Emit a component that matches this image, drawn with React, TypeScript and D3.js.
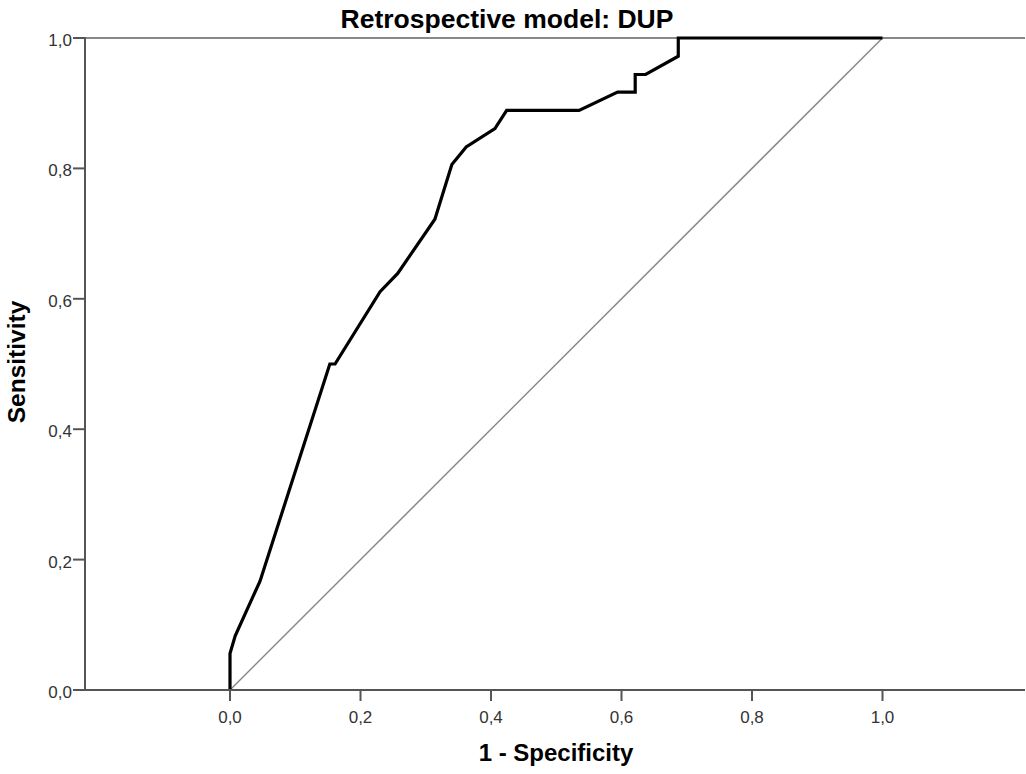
import React from "react";
import * as d3 from "d3";

const fpr = [0, 0, 0.008, 0.046, 0.153, 0.161, 0.23, 0.257, 0.314, 0.34, 0.362, 0.406, 0.424, 0.535, 0.594, 0.621, 0.621, 0.637, 0.687, 0.687, 1.0];
const tpr = [0, 0.056, 0.083, 0.167, 0.5, 0.5, 0.611, 0.639, 0.722, 0.806, 0.833, 0.861, 0.889, 0.889, 0.917, 0.917, 0.944, 0.944, 0.972, 1.0, 1.0];
const xTicks = [0, 0.2, 0.4, 0.6, 0.8, 1.0];
const yTicks = [0, 0.2, 0.4, 0.6, 0.8, 1.0];
const title = "Retrospective model: DUP";
const xLabel = "1 - Specificity";
const yLabel = "Sensitivity";

export default function App() {
  const W = 1026, H = 774;
  const left = 85, right = 1025, top = 38, bottom = 690;
  const x = d3.scaleLinear().domain([0, 1]).range([230, 882.5]);
  const y = d3.scaleLinear().domain([0, 1]).range([bottom, top]);
  const pts: [number, number][] = fpr.map((f, i) => [f, tpr[i]]);
  const line = d3.line<[number, number]>().x(d => x(d[0])).y(d => y(d[1]));
  const fmt = (v: number) => v.toFixed(1).replace(".", ",");
  const font = "Arial, 'Liberation Sans', sans-serif";
  return (
    <svg width={W} height={H} style={{ position: "absolute", left: 0, top: 0 }} fontFamily={font}>
      <rect width={W} height={H} fill="#fff" />
      <text x={507} y={28} textAnchor="middle" fontSize={26.5} fontWeight="bold" fill="#000">{title}</text>
      <line x1={left} x2={right} y1={top} y2={top} stroke="#888" strokeWidth={2} />
      <path d={line([[0, 0], [1, 1]])!} stroke="#888" strokeWidth={1.5} fill="none" />
      <path d={line(pts)!} stroke="#000" strokeWidth={3.2} fill="none" strokeLinejoin="miter" />
      <line x1={left} x2={left} y1={top - 1} y2={bottom + 1} stroke="#555" strokeWidth={2} />
      <line x1={left - 1} x2={right} y1={bottom} y2={bottom} stroke="#555" strokeWidth={2} />
      {yTicks.map(t => (
        <g key={"y" + t}>
          <line x1={left - 12} x2={left} y1={y(t)} y2={y(t)} stroke="#555" strokeWidth={2} />
          <text x={left - 13} y={y(t) + 8} textAnchor="end" fontSize={17} fill="#333">{fmt(t)}</text>
        </g>
      ))}
      {xTicks.map(t => (
        <g key={"x" + t}>
          <line x1={x(t)} x2={x(t)} y1={bottom} y2={bottom + 11} stroke="#555" strokeWidth={2} />
          <text x={x(t)} y={bottom + 33} textAnchor="middle" fontSize={17} fill="#333">{fmt(t)}</text>
        </g>
      ))}
      <text x={556} y={761} textAnchor="middle" fontSize={24} fontWeight="bold" fill="#000">{xLabel}</text>
      <text transform={`translate(25,362) rotate(-90)`} textAnchor="middle" fontSize={24.5} fontWeight="bold" fill="#000">{yLabel}</text>
    </svg>
  );
}
